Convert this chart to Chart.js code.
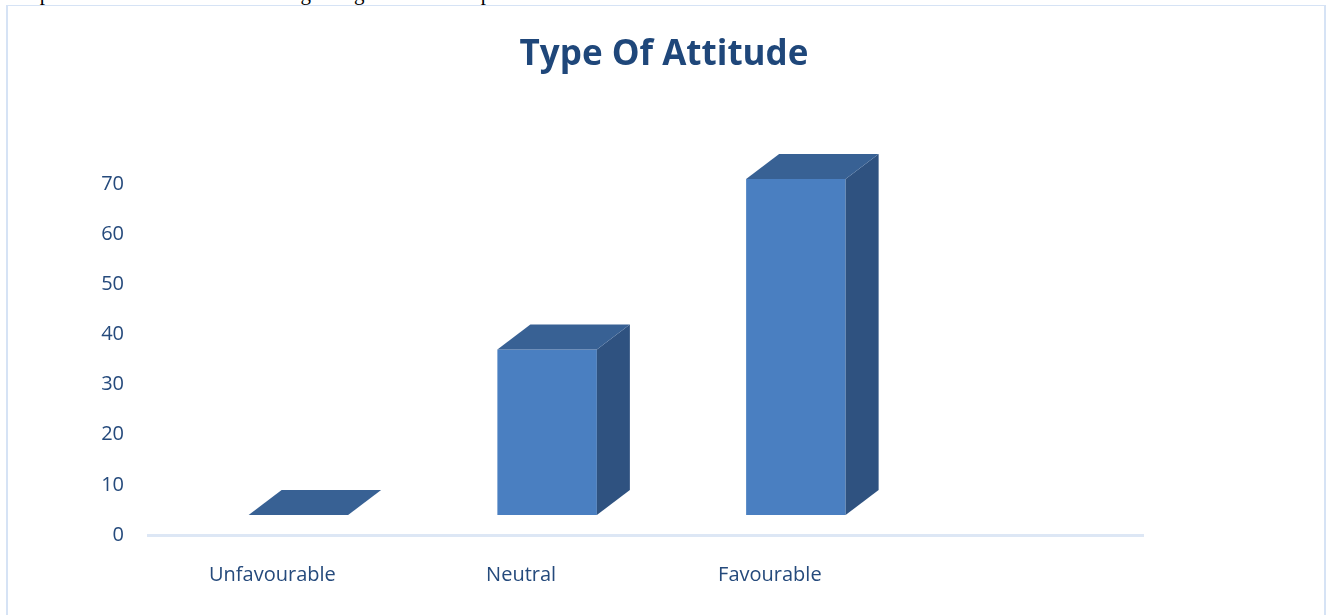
<!DOCTYPE html>
<html>
<head>
<meta charset="utf-8">
<script src="https://cdn.jsdelivr.net/npm/chart.js@4"></script>
<style>
  html, body { margin: 0; padding: 0; background: #fff; overflow: hidden; }
  body { width: 1328px; height: 615px; position: relative; }
  #above {
    position: absolute; left: 6px; top: -19px; margin: 0;
    font: 21px "Liberation Serif", serif; color: #000; white-space: nowrap;
  }
  #frame {
    position: absolute; left: 6px; top: 5px; width: 1316px; height: 640px;
    border: 2px solid #d6e3f5; border-top-width: 1.5px;
  }
  #wrap { position: absolute; left: 0; top: 0; width: 1328px; height: 615px; }
</style>
</head>
<body>
<p id="above">sample had a favourable attitude regarding the Fiscal Gap.</p>
<div id="frame"></div>
<div id="wrap"><canvas id="chart"></canvas></div>
<script>
const categories = ["Unfavourable", "Neutral", "Favourable", ""];
const attitudeValues = [0, 33, 67, null];
const yTicks = [0, 10, 20, 30, 40, 50, 60, 70];

const frontColor = "#4a7fc1";
const topColor = "#386194";
const sideColor = "#2f5280";
const textColor = "#254a7c";

// fake depth: front face shifted, top/side faces drawn from the bar geometry
const shiftX = 26;
const shiftY = -20;
const depthX = 33;
const depthY = -25;

const boxes3d = {
  id: "boxes3d",
  beforeDatasetsDraw(chart) {
    chart.ctx.save();
    chart.ctx.translate(shiftX, shiftY);
  },
  afterDatasetsDraw(chart) {
    const ctx = chart.ctx;
    ctx.restore();
    const meta = chart.getDatasetMeta(0);
    meta.data.forEach((bar, i) => {
      if (attitudeValues[i] == null) return;
      const p = bar.getProps(["x", "y", "base", "width"], true);
      const left = p.x - p.width / 2 + shiftX;
      const right = p.x + p.width / 2 + shiftX;
      const top = p.y + shiftY;
      const bottom = p.base + shiftY;

      ctx.save();
      ctx.fillStyle = sideColor;
      ctx.beginPath();
      ctx.moveTo(right, top);
      ctx.lineTo(right + depthX, top + depthY);
      ctx.lineTo(right + depthX, bottom + depthY);
      ctx.lineTo(right, bottom);
      ctx.closePath();
      ctx.fill();

      ctx.fillStyle = topColor;
      ctx.beginPath();
      ctx.moveTo(left, top);
      ctx.lineTo(right, top);
      ctx.lineTo(right + depthX, top + depthY);
      ctx.lineTo(left + depthX, top + depthY);
      ctx.closePath();
      ctx.fill();
      ctx.restore();
    });
  },
};

new Chart(document.getElementById("chart"), {
  type: "bar",
  data: {
    labels: categories,
    datasets: [
      {
        label: "Type Of Attitude",
        data: attitudeValues,
        backgroundColor: frontColor,
        borderWidth: 0,
        barPercentage: 0.4,
        categoryPercentage: 1,
        clip: false,
      },
    ],
  },
  options: {
    responsive: true,
    maintainAspectRatio: false,
    animation: false,
    layout: { padding: 0 },
    plugins: {
      legend: { display: false },
      tooltip: { enabled: false },
      title: {
        display: true,
        text: "Type Of Attitude",
        color: "#1f477a",
        font: { family: "Open Sans", size: 35, weight: "bold" },
        padding: { top: 34, bottom: 108 },
      },
    },
    scales: {
      x: {
        grid: { display: false, drawTicks: false },
        border: { display: true, color: "#dde7f5", width: 3 },
        ticks: {
          color: textColor,
          font: { family: "Open Sans", size: 20 },
          padding: 28,
          maxRotation: 0,
        },
        afterFit(scale) { scale.height = 80; },
      },
      y: {
        min: 0,
        max: 70,
        grid: { display: false, drawTicks: false },
        border: { display: false },
        afterBuildTicks(scale) { scale.ticks = yTicks.map((v) => ({ value: v })); },
        ticks: {
          color: textColor,
          font: { family: "Open Sans", size: 20 },
          padding: 24,
        },
        afterFit(scale) { scale.width = 148; },
      },
      // empty right-hand strip so the title stays centred on the whole frame
      spacer: {
        position: "right",
        display: true,
        grid: { display: false, drawTicks: false },
        border: { display: false },
        ticks: { display: false },
        afterFit(scale) { scale.width = 185; },
      },
    },
  },
  plugins: [boxes3d],
});
</script>
</body>
</html>
